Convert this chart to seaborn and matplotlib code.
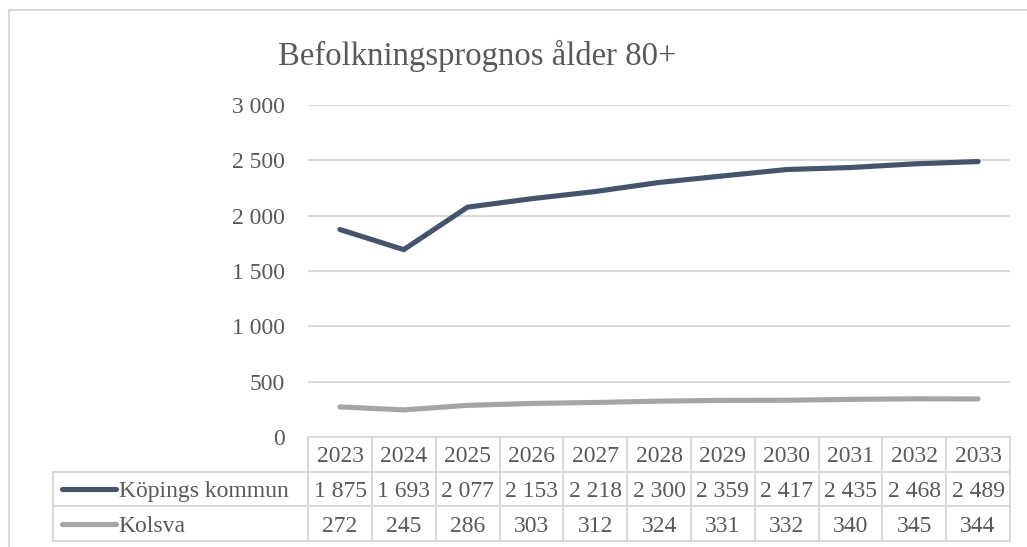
import numpy as np
import pandas as pd
import matplotlib
matplotlib.use("Agg")
import matplotlib.pyplot as plt
from matplotlib.patches import Rectangle
import seaborn as sns

years = [2023, 2024, 2025, 2026, 2027, 2028, 2029, 2030, 2031, 2032, 2033]
koping = [1875, 1693, 2077, 2153, 2218, 2300, 2359, 2417, 2435, 2468, 2489]
kolsva = [272, 245, 286, 303, 312, 324, 331, 332, 340, 345, 344]
series_names = ["Köpings kommun", "Kolsva"]
colors = {"Köpings kommun": "#44546A", "Kolsva": "#A5A5A5"}
title = "Befolkningsprognos ålder 80+"

W, H = 1027, 547
GRID = "#D9D9D9"
TXT = "#595959"
FS = 17


def fmt(v):
    return f"{v:,}".replace(",", " ")


def main():
    sns.set_style("white")
    plt.rcParams['font.family'] = ['Liberation Serif', 'DejaVu Serif']

    df = pd.DataFrame({
        "pos": list(range(len(years))) * 2,
        "value": koping + kolsva,
        "serie": [series_names[0]] * len(years) + [series_names[1]] * len(years),
    })

    fig = plt.figure(figsize=(W / 100, H / 100), dpi=100)
    # outer chart frame (runs past right/bottom edge of the picture)
    fig.patches.append(Rectangle((9 / W, -0.1), 1.2, 1 - 10 / H + 0.1,
                                 transform=fig.transFigure, fill=False,
                                 edgecolor=GRID, linewidth=1.5))

    ax = fig.add_axes([308 / W, (H - 437) / H, (1010 - 308) / W, (437 - 105) / H])
    sns.lineplot(data=df, x="pos", y="value", hue="serie", palette=colors,
                 linewidth=3.7, ax=ax, legend=False, zorder=3)
    for l in ax.lines:
        l.set_solid_capstyle("round")
        l.set_solid_joinstyle("miter")
    ax.set_xlim(-0.5, len(years) - 0.5)
    ax.set_ylim(0, 3000)
    ax.set_yticks(range(0, 3001, 500))
    ax.set_yticklabels([fmt(v) for v in range(0, 3001, 500)])
    ax.set_xticks([])
    ax.set_xlabel("")
    ax.set_ylabel("")
    ax.tick_params(axis="y", length=0, pad=16.5, labelsize=FS, labelcolor=TXT)
    ax.yaxis.grid(True, color=GRID, linewidth=1.5)
    ax.set_axisbelow(True)
    for s in ax.spines.values():
        s.set_visible(False)
    ax.patch.set_alpha(0)

    fig.text(477 / W, (H - 65) / H, title, ha="center", va="baseline",
             fontsize=23.6, color=TXT)

    # data table below the plot
    n = len(years)
    tx = fig.add_axes([53 / W, (H - 541) / H, (1010 - 53) / W, (541 - 437) / H])
    tx.set_xlim(-4.5, n - 0.5)
    tx.set_ylim(0, 3)
    tx.axis("off")
    lw = 1.5
    tx.plot([-0.5, n - 0.5], [3, 3], color=GRID, lw=lw, clip_on=False)
    for yy in [2, 1, 0]:
        tx.plot([-4.5, n - 0.5], [yy, yy], color=GRID, lw=lw, clip_on=False)
    tx.plot([-4.5, -4.5], [0, 2], color=GRID, lw=lw, clip_on=False)
    for i in range(n + 1):
        tx.plot([i - 0.5, i - 0.5], [0, 3], color=GRID, lw=lw, clip_on=False)

    for i, y in enumerate(years):
        tx.text(i, 2.5, str(y), ha="center", va="center_baseline",
                fontsize=FS, color=TXT)
    rows = [(series_names[0], koping, 1.5), (series_names[1], kolsva, 0.5)]
    for name, vals, yc in rows:
        tx.plot([-4.36, -3.52], [yc, yc], color=colors[name], lw=3.7,
                solid_capstyle="round", clip_on=False)
        tx.text(-3.47, yc, name, ha="left", va="center_baseline",
                fontsize=FS, color=TXT)
        for i, v in enumerate(vals):
            tx.text(i, yc, fmt(v), ha="center", va="center_baseline",
                    fontsize=FS, color=TXT)

    fig.savefig("out.png", dpi=100)


if __name__ == '__main__':
    main()
